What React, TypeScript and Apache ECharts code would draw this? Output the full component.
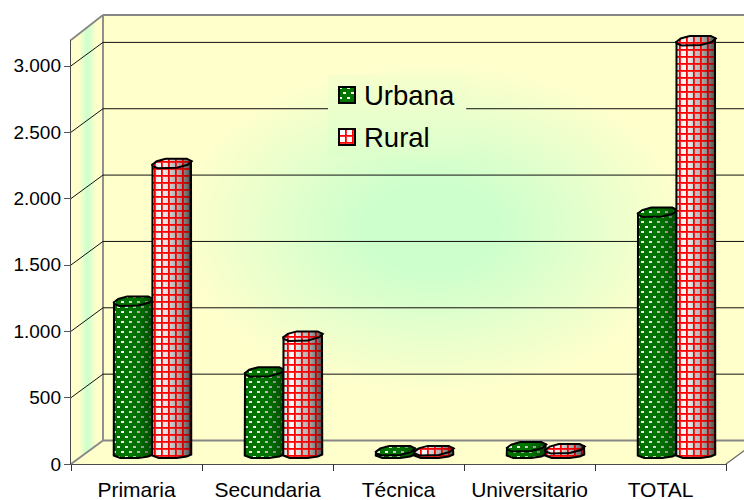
import React, { useEffect, useRef } from "react";
import * as echarts from "echarts";

const categories = ["Primaria", "Secundaria", "Técnica", "Universitario", "TOTAL"];
const urbana = [1138, 605, 12, 41, 1808];
const rural = [2176, 875, 12, 26, 3101];
const yTicks = [0, 500, 1000, 1500, 2000, 2500, 3000];

const DX = 32, DY = 23;
const BAR_W = 38.5;

const tile = (w: number, h: number, draw: (c: CanvasRenderingContext2D) => void) => {
  const cv = document.createElement("canvas");
  cv.width = w; cv.height = h;
  draw(cv.getContext("2d")!);
  return cv;
};

const topCap: [number, number][] = [[-19.5, 1], [-15, -2.5], [-6, -5], [15, -5], [20, -2.5], [16, 1], [5, 4], [-14, 4.5], [-19, 2.5]];
const bottomCurve: [number, number][] = [[19.5, 0], [19.5, 2], [15, 4], [5, 5.5], [-13, 5.5], [-19.5, 3]];

export default function App() {
  const ref = useRef<HTMLDivElement>(null);
  useEffect(() => {
    document.body.style.margin = "0";
    const { LinearGradient, RadialGradient } = echarts.graphic as any;
    const redTile = tile(7, 7, (c) => {
      c.fillStyle = "rgba(255,0,0,1)";
      c.fillRect(0, 0, 7, 1);
      c.fillRect(0, 1, 1, 6);
      c.fillStyle = "rgba(255,0,0,0.8)";
      c.fillRect(1, 1, 6, 1);
      c.fillRect(1, 2, 1, 5);
    });
    const greenTile = tile(8, 10, (c) => {
      c.fillStyle = "#007500";
      c.fillRect(0, 0, 8, 10);
      c.clearRect(1, 1, 3, 2);
      c.clearRect(5, 6, 3, 2);
      c.fillStyle = "rgba(0,117,0,0.45)";
      c.fillRect(0, 1, 1, 2);
      c.fillRect(4, 1, 1, 2);
      c.fillRect(4, 6, 1, 2);
      c.fillRect(0, 6, 1, 2);
    });
    const swatch = (base: string, t: HTMLCanvasElement) => {
      const cv = document.createElement("canvas");
      cv.width = 18; cv.height = 18;
      const c = cv.getContext("2d")!;
      c.fillStyle = base;
      c.fillRect(0, 0, 18, 18);
      c.fillStyle = c.createPattern(t, "repeat")!;
      c.fillRect(0, 0, 18, 18);
      c.strokeStyle = "#000";
      c.lineWidth = 2;
      c.strokeRect(1, 1, 16, 16);
      return "image://" + cv.toDataURL();
    };

    const bodyShade = () => new LinearGradient(0, 0, 1, 0, [
      { offset: 0, color: "#e4e4e4" }, { offset: 0.22, color: "#ffffff" },
      { offset: 0.5, color: "#cacaca" }, { offset: 0.8, color: "#a8a8a8" }, { offset: 1, color: "#808080" },
    ]);
    const darkShade = () => new LinearGradient(0, 0, 1, 0, [
      { offset: 0, color: "rgba(0,0,0,0.06)" }, { offset: 0.3, color: "rgba(0,0,0,0)" },
      { offset: 0.65, color: "rgba(0,0,0,0.05)" }, { offset: 1, color: "rgba(0,0,0,0.38)" },
    ]);

    const barSeries = (name: string, values: number[], sign: number, t: HTMLCanvasElement) => ({
      type: "custom",
      name,
      z: 3,
      data: values.map((v, i) => [i, v]),
      renderItem: (_: any, api: any) => {
        const top = api.coord([api.value(0), api.value(1)]);
        const base = api.coord([api.value(0), 0]);
        const cx = top[0] + DX / 2 + sign * BAR_W / 2;
        const cyT = top[1] - 11.5;
        const cyB = base[1] - 11.5;
        const body = [
          [cx - BAR_W / 2, cyT + 1],
          [cx + BAR_W / 2, cyT - 2.5],
          ...bottomCurve.map(([x, y]) => [cx + x, cyB + y]),
        ];
        const cap = topCap.map(([x, y]) => [cx + x, cyT + y]);
        const layers = (pts: number[][]) => [
          { type: "polygon", shape: { points: pts }, style: { fill: bodyShade() } },
          { type: "polygon", shape: { points: pts }, style: { fill: { image: t, repeat: "repeat" } } },
          { type: "polygon", shape: { points: pts }, style: { fill: darkShade(), stroke: "#000", lineWidth: 2 } },
        ];
        return { type: "group", children: [...layers(body), ...layers(cap)] };
      },
    });

    const chart = echarts.init(ref.current!, undefined, { renderer: "svg" });
    chart.setOption({
      animation: false,
      backgroundColor: "#ffffff",
      textStyle: { fontFamily: "'Liberation Sans', Arial, sans-serif" },
      grid: { left: 71, right: 18, top: 40, bottom: 35 },
      legend: {
        orient: "vertical",
        left: 328,
        top: 75,
        padding: [6, 12, 6, 10],
        itemGap: 14,
        itemWidth: 18,
        itemHeight: 18,
        backgroundColor: new LinearGradient(0, 0, 0, 1, [
          { offset: 0, color: "#f6ffcc" }, { offset: 1, color: "#dcffcc" },
        ]),
        textStyle: { fontSize: 27.5, color: "#000", padding: [0, 0, 0, 3] },
        data: [
          { name: "Urbana", icon: swatch("#ffffff", greenTile) },
          { name: "Rural", icon: swatch("#ffffff", redTile) },
        ],
      },
      xAxis: {
        type: "category",
        data: categories,
        axisLine: { show: true, lineStyle: { color: "#111", width: 1.5 } },
        axisTick: { show: true, length: 7, lineStyle: { color: "#333" } },
        axisLabel: { fontSize: 21, color: "#000", margin: 15, interval: 0 },
        splitLine: { show: false },
      },
      yAxis: {
        type: "value",
        min: 0,
        max: 3195,
        interval: 500,
        axisLine: { show: true, lineStyle: { color: "#111", width: 1.5 } },
        axisTick: { show: true, length: 7, lineStyle: { color: "#555" }, customValues: yTicks },
        axisLabel: {
          fontSize: 19, color: "#000", margin: 10, customValues: yTicks,
          formatter: (v: number) => String(v).replace(/\B(?=(\d{3})+$)/, "."),
        },
        splitLine: { show: false },
      },
      series: [
        {
          type: "custom",
          name: "walls",
          z: 1,
          silent: true,
          data: [[0, 0]],
          renderItem: (p: any, api: any) => {
            const cs = p.coordSys;
            const x0 = cs.x, y0 = cs.y + cs.height, yT = cs.y, xR = cs.x + cs.width;
            const bx = x0 + DX, bR = 744 + 16;
            const toBack = yT - 25;
            const floorY = y0 - DY - 0.5;
            const children: any[] = [
              {
                type: "rect",
                shape: { x: bx, y: toBack, width: bR - bx, height: floorY - toBack },
                style: {
                  fill: new RadialGradient(0.5, 0.5, 0.5, [
                    { offset: 0, color: "#ccffcc" }, { offset: 0.2, color: "#ccffcc" },
                    { offset: 0.78, color: "#ffffcc" }, { offset: 1, color: "#ffffcc" },
                  ]),
                },
              },
              {
                type: "polygon",
                shape: { points: [[x0, yT], [bx, toBack], [bx, floorY], [x0, y0]] },
                style: {
                  fill: new LinearGradient(0, 0, 1, 0, [
                    { offset: 0, color: "#ffffcc" }, { offset: 0.25, color: "#ffffcc" },
                    { offset: 0.5, color: "#ccffcc" }, { offset: 0.8, color: "#ffffcc" }, { offset: 1, color: "#ffffcc" },
                  ]),
                },
              },
              {
                type: "polygon",
                shape: { points: [[x0, y0], [bx, floorY], [bR, floorY], [xR, y0]] },
                style: { fill: "#ffffcc" },
              },
              { type: "line", shape: { x1: x0, y1: yT, x2: bx, y2: toBack }, style: { stroke: "#868686", lineWidth: 1.8 } },
              { type: "line", shape: { x1: bx, y1: toBack, x2: bR, y2: toBack }, style: { stroke: "#868686", lineWidth: 1.8 } },
              { type: "line", shape: { x1: bx, y1: toBack, x2: bx, y2: floorY }, style: { stroke: "#868686", lineWidth: 1.8 } },
              { type: "line", shape: { x1: x0, y1: y0, x2: bx, y2: floorY }, style: { stroke: "#868686", lineWidth: 1.8 } },
              { type: "line", shape: { x1: bx, y1: floorY, x2: bR, y2: floorY }, style: { stroke: "#868686", lineWidth: 1.8 } },
              { type: "line", shape: { x1: xR, y1: y0, x2: xR + DX, y2: floorY }, style: { stroke: "#666", lineWidth: 1.2 } },
            ];
            yTicks.slice(1).forEach((t) => {
              const y = api.coord([0, t])[1];
              children.push(
                { type: "line", shape: { x1: x0, y1: y, x2: bx, y2: y - DY - 0.5 }, style: { stroke: "#111", lineWidth: 1 } },
                { type: "line", shape: { x1: bx, y1: y - DY - 0.5, x2: bR, y2: y - DY - 0.5 }, style: { stroke: "#111", lineWidth: 1 } },
              );
            });
            return { type: "group", children };
          },
        },
        barSeries("Urbana", urbana, -1, greenTile),
        barSeries("Rural", rural, 1, redTile),
      ],
    });
    return () => chart.dispose();
  }, []);
  return <div ref={ref} style={{ width: 744, height: 500 }} />;
}
